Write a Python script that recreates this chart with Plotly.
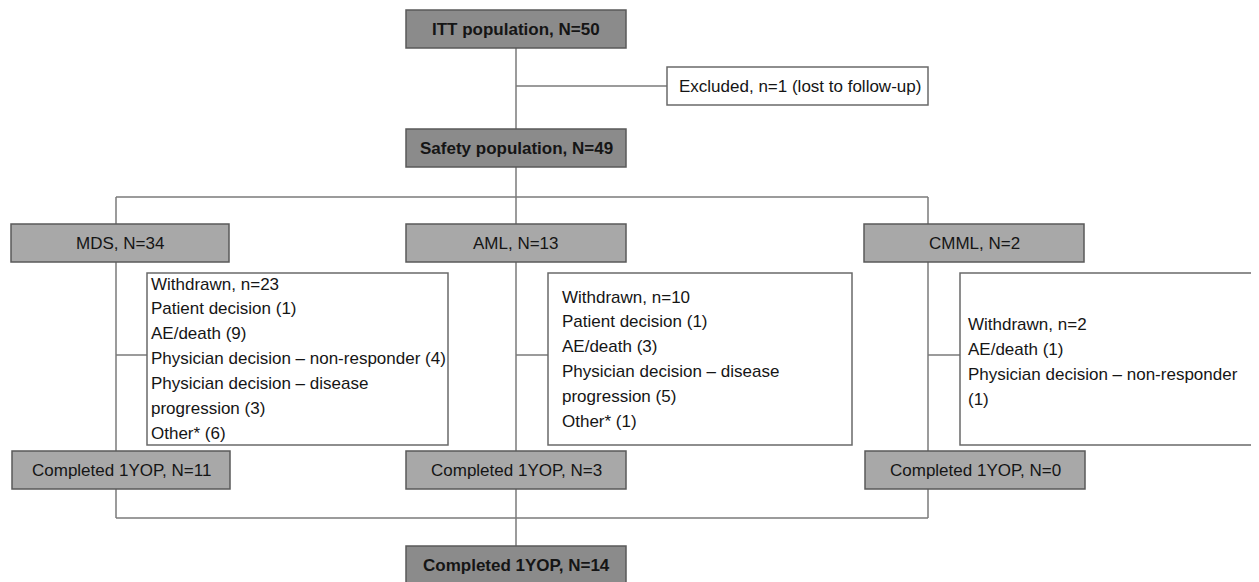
import plotly.graph_objects as go

# ---------------- data ----------------
itt_n = 50
excluded_n = 1
safety_n = 49
groups = ["MDS", "AML", "CMML"]
group_n = [34, 13, 2]
completed_n = [11, 3, 0]
total_completed = 14
withdrawn_lines = [
    ["Withdrawn, n=23", "Patient decision (1)", "AE/death (9)",
     "Physician decision \u2013 non-responder (4)", "Physician decision \u2013 disease",
     "progression (3)", "Other* (6)"],
    ["Withdrawn, n=10", "Patient decision (1)", "AE/death (3)",
     "Physician decision \u2013 disease", "progression (5)", "Other* (1)"],
    ["Withdrawn, n=2", "AE/death (1)", "Physician decision \u2013 non-responder", "(1)"],
]

# ---------------- layout (pixels) ----------------
W, H = 1259, 582
PAGE_OFF = 8  # default body margin of the html page
FONT = "Liberation Sans, Arial, sans-serif"
DARK = "#8b8b8b"
LIGHT = "#a8a8a8"
BORDER = "#5a5a5a"
LINE = "#7a7a7a"
TXT = "#151515"

trunk_x = 516
top_box = dict(x0=406, x1=626)
itt_y = (10, 48)
safety_y = (129, 167)
excl_box = dict(x0=667, x1=928, y0=67, y1=105)
split_y = 197
group_vx = [116, 516, 928]
group_box_x = [(11, 229), (406, 626), (864, 1084)]
group_y = (224, 262)
wd_box_x = [(147, 448), (548, 852), (960, 1262)]
wd_y = (273, 445)
wd_first = [284, 297, 324]
wd_step = [24.9, 24.9, 25.0]
wd_text_x = [149, 560, 966]
branch_y = 355
comp_box_x = [(12, 230), (406, 626), (865, 1085)]
comp_y = (451, 489)
join_y = 518
final_y = (546, 586)

fig = go.Figure()
shapes = []
annotations = []


def line(x0, y0, x1, y1):
    shapes.append(dict(type="line", xref="x", yref="y", x0=x0, y0=y0, x1=x1, y1=y1,
                       line=dict(color=LINE, width=1.5), layer="above"))


def box(x0, x1, y0, y1, fill, border=BORDER, width=1.5):
    shapes.append(dict(type="rect", xref="x", yref="y", x0=x0, x1=x1, y0=y0, y1=y1,
                       fillcolor=fill, line=dict(color=border, width=width), layer="above"))


def label(x, y, text, bold=False, anchor="center", size=17):
    annotations.append(dict(x=x, y=y, xref="x", yref="y", text=("<b>%s</b>" % text) if bold else text,
                            showarrow=False, xanchor=anchor, yanchor="middle",
                            font=dict(family=FONT, size=size, color=TXT)))


# connectors first
line(trunk_x, itt_y[1], trunk_x, split_y)
line(trunk_x, (excl_box["y0"] + excl_box["y1"]) / 2, excl_box["x0"], (excl_box["y0"] + excl_box["y1"]) / 2)
line(group_vx[0], split_y, group_vx[-1], split_y)
for i, vx in enumerate(group_vx):
    end = final_y[0] if i == 1 else join_y
    line(vx, split_y, vx, end)
    line(vx, branch_y, wd_box_x[i][0], branch_y)
line(group_vx[0], join_y, group_vx[-1], join_y)

# top boxes
box(top_box["x0"], top_box["x1"], itt_y[0], itt_y[1], DARK)
label((top_box["x0"] + top_box["x1"]) / 2, sum(itt_y) / 2, "ITT population, N=%d" % itt_n, bold=True)
box(excl_box["x0"], excl_box["x1"], excl_box["y0"], excl_box["y1"], "white", border="#6a6a6a")
label(excl_box["x0"] + 10, (excl_box["y0"] + excl_box["y1"]) / 2,
      "Excluded, n=%d (lost to follow-up)" % excluded_n, anchor="left")
box(top_box["x0"], top_box["x1"], safety_y[0], safety_y[1], DARK)
label((top_box["x0"] + top_box["x1"]) / 2, sum(safety_y) / 2, "Safety population, N=%d" % safety_n, bold=True)

# group columns
for i, g in enumerate(groups):
    gx0, gx1 = group_box_x[i]
    box(gx0, gx1, group_y[0], group_y[1], LIGHT)
    label((gx0 + gx1) / 2, sum(group_y) / 2, "%s, N=%d" % (g, group_n[i]))

    wx0, wx1 = wd_box_x[i]
    box(wx0, wx1, wd_y[0], wd_y[1], "white", border="#6a6a6a")
    for k, t in enumerate(withdrawn_lines[i]):
        label(wd_text_x[i], wd_first[i] + k * wd_step[i], t, anchor="left")

    cx0, cx1 = comp_box_x[i]
    box(cx0, cx1, comp_y[0], comp_y[1], LIGHT)
    label((cx0 + cx1) / 2, sum(comp_y) / 2, "Completed 1YOP, N=%d" % completed_n[i])

# final box
box(top_box["x0"], top_box["x1"], final_y[0], final_y[1], DARK)
label((top_box["x0"] + top_box["x1"]) / 2, 565, "Completed 1YOP, N=%d" % total_completed, bold=True)

fig.update_layout(
    width=W, height=H,
    margin=dict(l=0, r=0, t=0, b=0),
    paper_bgcolor="white", plot_bgcolor="white",
    xaxis=dict(range=[PAGE_OFF, W + PAGE_OFF], visible=False, fixedrange=True),
    yaxis=dict(range=[H + PAGE_OFF, PAGE_OFF], visible=False, fixedrange=True),
    shapes=shapes, annotations=annotations, showlegend=False,
)

fig.write_html("out.html", config={"displayModeBar": False})
